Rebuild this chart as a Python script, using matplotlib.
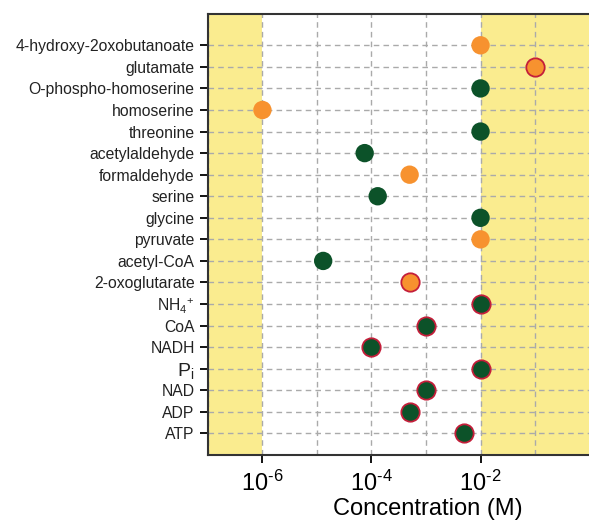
import matplotlib.pyplot as plt
from matplotlib.ticker import FixedLocator, NullFormatter

plt.rcParams['font.family'] = ['Liberation Sans', 'DejaVu Sans']
plt.rcParams['mathtext.fontset'] = 'custom'
plt.rcParams['mathtext.rm'] = 'Liberation Sans'
plt.rcParams['mathtext.it'] = 'Liberation Sans'

# data (top to bottom)
names = ["4-hydroxy-2oxobutanoate", "glutamate", "O-phospho-homoserine", "homoserine",
         "threonine", "acetylaldehyde", "formaldehyde", "serine", "glycine", "pyruvate",
         "acetyl-CoA", "2-oxoglutarate", r"NH$_4$$^{+}$", "CoA", "NADH", r"P$_\mathrm{i}$",
         "NAD", "ADP", "ATP"]
conc = [1e-2, 1e-1, 1e-2, 1e-6, 1e-2, 7.5e-5, 5e-4, 1.3e-4, 1e-2, 1e-2,
        1.3e-5, 5e-4, 1e-2, 1e-3, 1e-4, 1e-2, 1e-3, 5e-4, 5e-3]
kind = ["o", "o", "g", "o", "g", "g", "o", "g", "g", "o",
        "g", "o", "g", "g", "g", "g", "g", "g", "g"]
edged = [False, True, False, False, False, False, False, False, False, False,
         False, True, True, True, True, True, True, True, True]
xticks = [1e-6, 1e-4, 1e-2]
xticklabels = ["10$^{\u20106}$", "10$^{\u20104}$", "10$^{\u20102}$"]

orange = "#F7922F"
green = "#0C5229"
red = "#C41E3A"
yellow = "#FAEC8F"

fig = plt.figure(figsize=(5.89, 5.2), dpi=100)
ax = fig.add_axes([0.353, 0.125, 0.648, 0.848])

n = len(names)
ypos = [n - 1 - i for i in range(n)]

ax.axvspan(1e-7, 1e-6, color=yellow, zorder=0, lw=0)
ax.axvspan(1e-2, 1e0, color=yellow, zorder=0, lw=0)

for y, c, k, e in zip(ypos, conc, kind, edged):
    ax.scatter(c, y, s=175, color=orange if k == "o" else green,
               edgecolors=red if e else "none", linewidths=1.3, zorder=3)

ax.set_xscale("log")
ax.set_xlim(1e-7, 1e0)
ax.set_ylim(-1, n + 0.45)
ax.xaxis.set_major_locator(FixedLocator(xticks))
ax.xaxis.set_minor_locator(FixedLocator([1e-7, 1e-5, 1e-3, 1e-1]))
ax.xaxis.set_minor_formatter(NullFormatter())
ax.set_xticklabels(xticklabels, fontsize=17)
ax.tick_params(axis="x", which="minor", length=0)
ax.tick_params(axis="x", which="major", length=6, width=1.3, pad=5)
ax.set_yticks(ypos)
ax.set_yticklabels(names, fontsize=11.3, color="#222222")
for lab in ax.get_yticklabels():
    if "P$" in lab.get_text():
        lab.set_fontsize(14)
ax.tick_params(axis="y", length=6, width=1.3)

ax.grid(True, which="both", axis="x", ls=(0, (4, 3)), color="#AAAAAA", lw=1)
ax.grid(True, axis="y", ls=(0, (4, 3)), color="#AAAAAA", lw=1)
ax.set_axisbelow(True)

ax.spines["right"].set_visible(False)
for s in ["left", "bottom", "top"]:
    ax.spines[s].set_linewidth(1.5)
    ax.spines[s].set_color("#333333")

ax.set_xlabel("Concentration (M)", fontsize=17, labelpad=0)
ax.xaxis.set_label_coords(0.575, -0.097)

fig.savefig("out.png", dpi=100)
